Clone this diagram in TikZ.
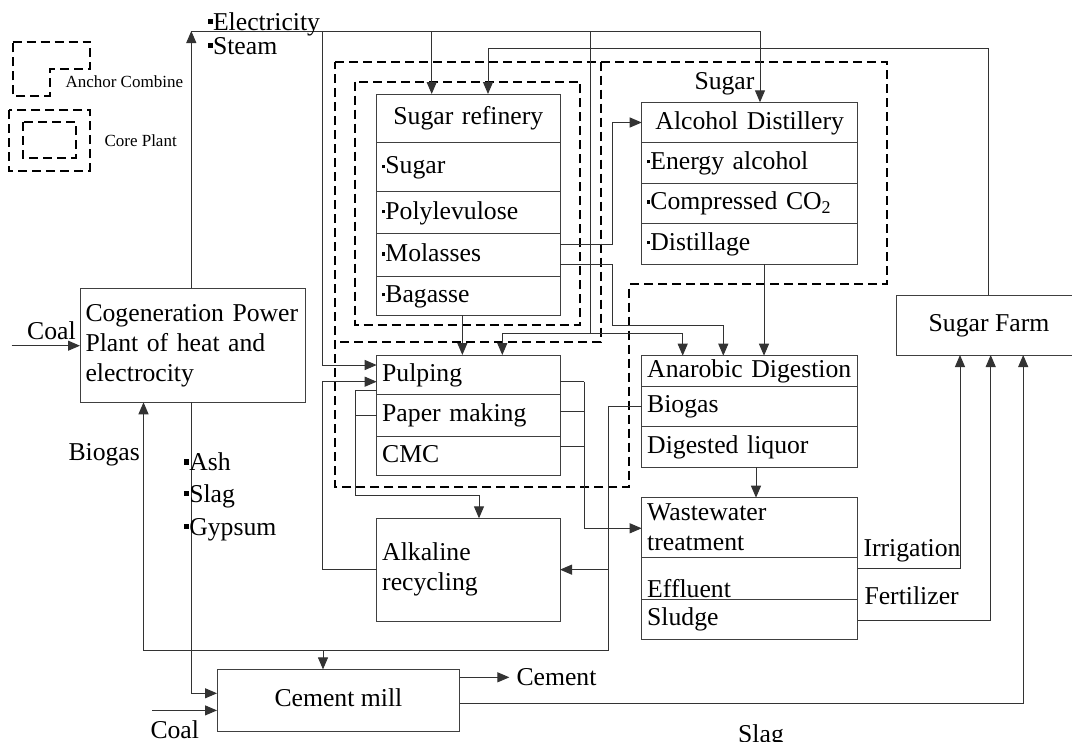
\documentclass[tikz,border=0pt]{standalone}
\usepackage{fontspec}
\setmainfont{Liberation Serif}
\usetikzlibrary{arrows.meta}
\newcommand\sbu{\rule[6pt]{3.2pt}{3.2pt}}
\newcommand\bbu{\rule[6pt]{5.5pt}{5.5pt}}
\begin{document}
\begin{tikzpicture}[x=1pt,y=-1pt,
  font=\fontsize{25.7}{30}\selectfont,
  line width=1pt, draw=black!80,
  >={Triangle[length=12pt,width=10pt]},
  box/.style={draw=black!75, line width=1pt, anchor=north west, inner sep=0pt, outer sep=0pt},
  row/.style={box, text height=18pt, text depth=5pt},
  lbox/.style={row, text width=172.3pt, inner xsep=5.5pt, align=left},
  rbox/.style={row, text width=205pt, inner xsep=5.5pt, align=left},
  lab/.style={anchor=base west, inner sep=0pt},
  small/.style={lab, font=\fontsize{17}{20}\selectfont},
  dsh/.style={draw=black, line width=2pt, dash pattern=on 9pt off 5pt}]
\useasboundingbox (0,0) rectangle (1072,742);

% ---------- legend ----------
\draw[dsh] (12.7,41.7) -- (90,41.7) -- (90,69.3) -- (50,69.3) -- (50,95.7) -- (12.7,95.7) -- cycle;
\node[small] (lgA) at (65,87.3) {Anchor Combine};
\draw[dsh] (9,110) rectangle (90,170.7);
\draw[dsh] (23.3,122.3) rectangle (76,158.3);
\node[small] (lgC) at (104,146.7) {Core Plant};

% ---------- dashed groupings ----------
\draw[dsh] (335,61.7) -- (886.7,61.7) -- (886.7,284.3) -- (629.3,284.3) -- (629.3,486.7) -- (335,486.7) -- cycle;
\draw[dsh] (601,61.7) -- (601,341.7) -- (335,341.7);
\draw[dsh] (355,81.7) rectangle (580,325);

% ---------- boxes ----------
\node[box, minimum width=225pt, minimum height=114pt, text width=214pt, inner xsep=5.5pt, align=left] (cog) at (80,288.3)
  {Cogeneration Power\\Plant of heat and\\electrocity};

\node[lbox, align=center, minimum height=48.7pt] (r0) at (376.7,94) {Sugar refinery};
\node[lbox, minimum height=49pt]   (r1) at (376.7,142.7) {\sbu Sugar};
\node[lbox, minimum height=41.6pt] (r2) at (376.7,191.7) {\sbu Polylevulose};
\node[lbox, minimum height=43.4pt] (r3) at (376.7,233.3) {\sbu Molasses};
\node[lbox, minimum height=38.3pt] (r4) at (376.7,276.7) {\sbu Bagasse};

\node[rbox, align=center, minimum height=40.4pt] (a0) at (641.7,102.3) {Alcohol Distillery};
\node[rbox, minimum height=40.3pt] (a1) at (641.7,142.7) {\sbu Energy alcohol};
\node[rbox, minimum height=40.3pt] (a2) at (641.7,183) {\sbu Compressed CO\textsubscript{2}};
\node[rbox, minimum height=40.7pt] (a3) at (641.7,223.3) {\sbu Distillage};

\node[row, minimum width=184.6pt, minimum height=60pt] (farm) at (896.7,295) {Sugar Farm};

\node[lbox, minimum height=39pt]   (p0) at (376.7,355) {Pulping};
\node[lbox, minimum height=42.7pt] (p1) at (376.7,394) {Paper making};
\node[lbox, minimum height=38.3pt] (p2) at (376.7,436.7) {CMC};

\node[rbox, minimum height=30.3pt] (d0) at (641.7,355.7) {Anarobic Digestion};
\node[rbox, minimum height=40.7pt] (d1) at (641.7,386) {Biogas};
\node[rbox, minimum height=40.3pt] (d2) at (641.7,426.7) {Digested liquor};

\node[box, minimum width=183.3pt, minimum height=102.7pt, text width=172.3pt, inner xsep=5.5pt, align=left] (alk) at (376.7,518.3)
  {Alkaline\\recycling};

\node[box, minimum width=216pt, minimum height=60pt, text width=205pt, inner xsep=5.5pt, align=left] (w0) at (641.7,497.7)
  {Wastewater\\treatment};
\node[rbox, minimum height=41.6pt, text height=37pt, text depth=0pt] (w1) at (641.7,557.7) {Effluent};
\node[rbox, minimum height=40pt] (w2) at (641.7,599.3) {Sludge};

\node[row, minimum width=242.8pt, minimum height=61.6pt] (cem) at (217,669.4) {Cement mill};

% ---------- coordinates ----------
\coordinate (h1) at (191.3,693.3);
\coordinate (busW) at (191.3,31);
\coordinate (busE) at (760,31);
\coordinate (e1) at (322.7,31);
\coordinate (e2) at (431.7,31);
\coordinate (e3) at (590.7,31);
\coordinate (e3b) at (590.7,333);
\coordinate (pin2) at (502.3,333);
\coordinate (din1) at (682.7,333);
\coordinate (f1) at (988,48.3);
\coordinate (f2) at (488,48.3);
\coordinate (m1) at (612.7,244);
\coordinate (m2) at (612.7,264.3);
\coordinate (m3) at (612.7,325);
\coordinate (m4) at (723.3,325);
\coordinate (k1) at (355.7,390);
\coordinate (k2) at (355.7,495.7);
\coordinate (k3) at (479,495.7);
\coordinate (q1) at (322.7,569);
\coordinate (q2) at (322.7,381.7);
\coordinate (s1) at (584,381.7);
\coordinate (s2) at (584,528.3);
\coordinate (s3) at (584,411);
\coordinate (s4) at (584,446.7);
\coordinate (b1) at (608.5,406.7);
\coordinate (b2) at (608.5,650.6);
\coordinate (b3) at (143.5,650.6);
\coordinate (b4) at (323,650.6);
\coordinate (c1) at (11.7,345.7);
\coordinate (c2) at (152,710.4);
\coordinate (co) at (509.4,677.3);
\coordinate (sl) at (1023.2,703.6);
\coordinate (ir) at (960,568.5);
\coordinate (fe) at (990.7,620.9);

% ---------- connectors ----------
\draw[->] (c1) -- (cog.west |- c1);
\draw[->] (cog.north -| busW) -- (busW);
\draw[->] (busW) -- (busE) -- (busE |- a0.north);
\draw[->] (e1) |- ([yshift=9.5pt]p0.west);
\draw[->] (e2) -- (e2 |- r0.north);
\draw (e3) -- (e3b);
\draw[->] (e3b) -- (pin2) -- (pin2 |- p0.north);
\draw[->] (e3b) -- (din1) -- (din1 |- d0.north);
\draw[->] (farm.north -| f1) -- (f1) -- (f2) -- (f2 |- r0.north);
\draw[->] (r3.east |- m1) -- (m1) |- (a0.west);
\draw[->] (r3.east |- m2) -- (m2) -- (m3) -- (m4) -- (m4 |- d0.north);
\draw[->] ([xshift=14.3pt]a3.south) -- ([xshift=14.3pt]d0.north);
\draw[->] ([xshift=-6pt]r4.south) -- ([xshift=-6pt]p0.north);
\draw (p0.west |- k1) -- (k1);
\draw (p1.west) -- (k1 |- p1.west);
\draw[->] (k1) -- (k2) -- (k3) -- (k3 |- alk.north);
\draw[->] (alk.west) -- (q1 |- alk.west) -- (q2) -- (p0.west |- q2);
\draw (p0.east |- s1) -- (s1);
\draw (p1.east |- s3) -- (s3);
\draw (p2.east |- s4) -- (s4);
\draw[->] (s1) -- (s2) -- (w0.west |- s2);
\draw[->] (d1.west) -- (b1 |- d1.west) -- (b2) -- (b3) -- (b3 |- cog.south);
\draw[->] (b1 |- alk.east) -- (alk.east);
\draw[->] (b4) -- (b4 |- cem.north);
\draw[->] (cog.south -| h1) -- (h1) -- (cem.west |- h1);
\draw[->] (c2) -- (cem.west |- c2);
\draw[->] (cem.east |- co) -- (co);
\draw[->] (cem.east |- sl) -- (sl) -- (sl |- farm.south);
\draw[->] ([xshift=6.3pt]d2.south) -- ([xshift=6.3pt]w0.north);
\draw[->] (w1.east |- ir) -- (ir) -- (ir |- farm.south);
\draw[->] (w2.east |- fe) -- (fe) -- (fe |- farm.south);

% ---------- labels ----------
\node[lab] (lElec) at (207,30) {\bbu Electricity};
\node[lab] (lSteam) at (207,54) {\bbu Steam};
\node[lab] (lSugar) at (694,89) {Sugar};
\node[lab] (lCoal1) at (26.7,339) {Coal};
\node[lab] (lBiogas) at (68,460) {Biogas};
\node[lab] (lAsh) at (183.3,470.7) {\bbu Ash};
\node[lab] (lSlag1) at (183.3,502.3) {\bbu Slag};
\node[lab] (lGyp) at (183.3,535) {\bbu Gypsum};
\node[lab] (lIrr) at (863,556.7) {Irrigation};
\node[lab] (lFert) at (864,604.4) {Fertilizer};
\node[lab] (lCement) at (516,685.5) {Cement};
\node[lab] (lCoal2) at (150,738.5) {Coal};
\node[lab] (lSlag2) at (737.7,742.5) {Slag};
\end{tikzpicture}
\end{document}
